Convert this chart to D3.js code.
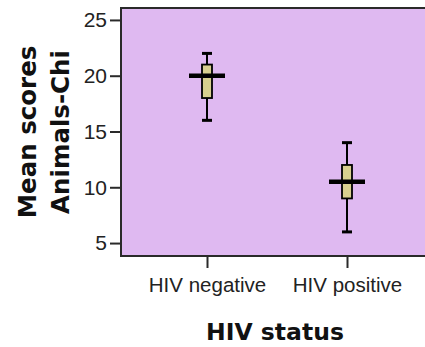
<!DOCTYPE html>
<html><head><meta charset="utf-8">
<script src="https://cdn.jsdelivr.net/npm/d3@7"></script>
<style>html,body{margin:0;padding:0;background:#fff;}svg{display:block;}</style>
</head><body>
<svg id="c" width="425" height="347"></svg>
<script>
const categories = ["HIV negative", "HIV positive"];
const whiskerLow  = [16, 6];
const q1          = [18, 9];
const median      = [20, 10.5];
const q3          = [21, 12];
const whiskerHigh = [22, 14];
const yTicks = [5, 10, 15, 20, 25];

(function () {
const svg = d3.select("#c");
const pLeft = 121, pTop = 8, pBottom = 256, pRight = 432;
const y = d3.scaleLinear().domain([3.84, 26.07]).range([pBottom, pTop]);
const x = d3.scalePoint().domain(categories).range([207, 347]);

svg.append("rect").attr("x", pLeft).attr("y", pTop).attr("width", pRight - pLeft).attr("height", pBottom - pTop)
  .attr("fill", "#dfb9f1").attr("stroke", "#2a2a2a").attr("stroke-width", 2);

// y axis
const ya = svg.append("g").attr("transform", `translate(${pLeft},0)`)
  .call(d3.axisLeft(y).tickValues(yTicks).tickSize(11).tickPadding(3).tickFormat(d3.format("d")));
ya.select(".domain").remove();
ya.selectAll("line").attr("stroke", "#2a2a2a").attr("stroke-width", 2);
ya.selectAll("text").attr("font-family", "Liberation Sans, Arial, sans-serif").attr("font-size", 21).attr("fill", "#222");

// x axis
const xa = svg.append("g").attr("transform", `translate(0,${pBottom})`)
  .call(d3.axisBottom(x).tickSize(12).tickPadding(9));
xa.select(".domain").remove();
xa.selectAll("line").attr("stroke", "#2a2a2a").attr("stroke-width", 2);
xa.selectAll("text").attr("font-family", "Liberation Sans, Arial, sans-serif").attr("font-size", 20.5).attr("fill", "#222");

// boxes
const g = svg.append("g");
categories.forEach((c, i) => {
  const cx = x(c);
  g.append("line").attr("x1", cx).attr("x2", cx).attr("y1", y(whiskerLow[i])).attr("y2", y(whiskerHigh[i]))
    .attr("stroke", "#000").attr("stroke-width", 2);
  [whiskerLow[i], whiskerHigh[i]].forEach(v => {
    g.append("line").attr("x1", cx - 5).attr("x2", cx + 5).attr("y1", y(v)).attr("y2", y(v))
      .attr("stroke", "#000").attr("stroke-width", 3);
  });
  g.append("rect").attr("x", cx - 5).attr("width", 10).attr("y", y(q3[i])).attr("height", y(q1[i]) - y(q3[i]))
    .attr("fill", "#d8d08f").attr("stroke", "#000").attr("stroke-width", 1.8);
  g.append("line").attr("x1", cx - 18).attr("x2", cx + 18).attr("y1", y(median[i])).attr("y2", y(median[i]))
    .attr("stroke", "#000").attr("stroke-width", 4.5);
});

// titles
svg.append("text").attr("x", 275).attr("y", 340).attr("text-anchor", "middle")
  .attr("font-family", "DejaVu Sans, Verdana, sans-serif").attr("font-weight", "bold").attr("font-size", 23.5)
  .attr("fill", "#111").text("HIV status");
const yt = svg.append("text").attr("transform", "translate(0,132) rotate(-90)").attr("text-anchor", "middle")
  .attr("font-family", "DejaVu Sans, Verdana, sans-serif").attr("font-weight", "bold").attr("font-size", 24.5).attr("fill", "#111");
yt.append("tspan").attr("x", 0).attr("y", 36).text("Mean scores");
yt.append("tspan").attr("x", 0).attr("y", 69).text("Animals-Chi");
})();
</script>
</body></html>
